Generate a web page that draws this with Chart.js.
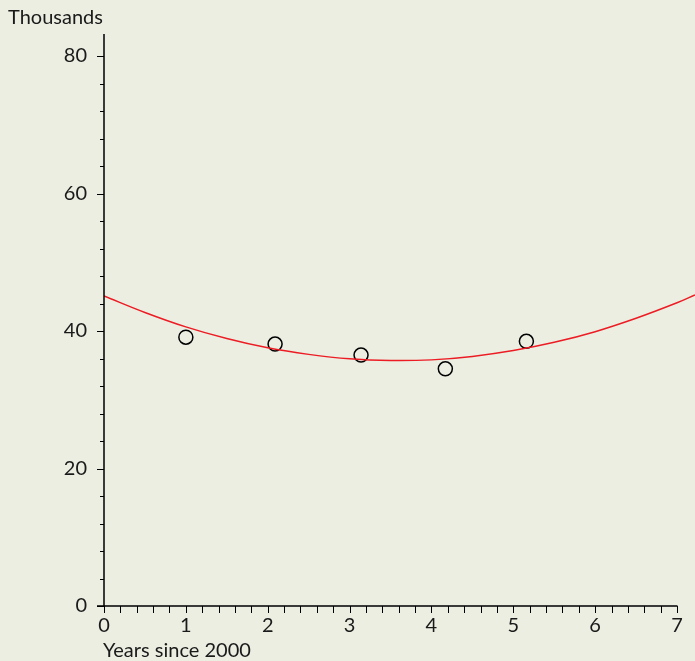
<!DOCTYPE html>
<html>
<head>
<meta charset="utf-8">
<script src="https://cdn.jsdelivr.net/npm/chart.js@4.4.0/dist/chart.umd.min.js"></script>
<style>
  html, body { margin: 0; padding: 0; background: #ebeee1; }
  #wrap { width: 695px; height: 661px; position: relative; }
</style>
</head>
<body>
<div id="wrap"><canvas id="chart" width="695" height="661"></canvas></div>
<script>
// observed points (years since 2000, thousands)
const obsYears  = [1.0, 2.09, 3.14, 4.17, 5.16];
const obsValues = [39.1, 38.1, 36.5, 34.5, 38.5];

// fitted red curve
const fitYears  = [0, 0.5, 1, 1.5, 2, 2.5, 3, 3.5, 4, 4.5, 5, 5.5, 6, 6.5, 7, 7.22];
const fitValues = [45.1, 42.7, 40.6, 38.9, 37.55, 36.6, 35.95, 35.7, 35.8, 36.3, 37.15, 38.35, 39.9, 41.85, 44.1, 45.25];

// labelled ticks
const xLabels = [0, 1, 2, 3, 4, 5, 6, 7];
const yLabels = [0, 20, 40, 60, 80];

const FONT = "Lato, sans-serif";
const TEXT = '#1a1a1a';

function isLabel(list, v){
    return list.some(l => Math.abs(l - v) < 1e-6);
}

// draws the axis lines, tick marks and the two axis captions
const axisPlugin = {
    id: 'axisLines',
    afterDraw(chart){
        const ctx = chart.ctx;
        const xs = chart.scales.x, ys = chart.scales.y;
        const x0 = Math.round(xs.getPixelForValue(0));
        const y0 = Math.round(ys.getPixelForValue(0));
        const xEnd = xs.getPixelForValue(xLabels[xLabels.length - 1]);
        ctx.save();
        ctx.strokeStyle = '#000';
        ctx.lineWidth = 1;
        ctx.beginPath();
        for (let t of ys.ticks){
            const py = Math.round(ys.getPixelForValue(t.value)) + 0.5;
            const len = isLabel(yLabels, t.value) ? 7 : 4;
            ctx.moveTo(x0 - len, py);
            ctx.lineTo(x0, py);
        }
        for (let t of xs.ticks){
            if (t.value > 7.0001) continue;
            const px = Math.round(xs.getPixelForValue(t.value)) + 0.5;
            ctx.moveTo(px, y0);
            ctx.lineTo(px, y0 + 7);
        }
        ctx.stroke();

        ctx.lineWidth = 1.5;
        ctx.beginPath();
        ctx.moveTo(x0, y0);
        ctx.lineTo(x0, chart.chartArea.top);
        ctx.moveTo(x0 - 7, y0);
        ctx.lineTo(xEnd + 0.5, y0);
        ctx.stroke();

        ctx.fillStyle = TEXT;
        ctx.font = "20px " + FONT;
        ctx.textBaseline = 'alphabetic';
        ctx.textAlign = 'left';
        ctx.fillText('Thousands', 8, 24);
        ctx.fillText('Years since 2000', 103, 657);
        ctx.restore();
    }
};

const ctx = document.getElementById('chart').getContext('2d');
const chart = new Chart(ctx, {
    type: 'scatter',
    data: {
        datasets: [
            {
                type: 'line',
                data: fitYears.map((x, i) => ({x: x, y: fitValues[i]})),
                borderColor: 'rgb(237,28,36)',
                borderWidth: 1.5,
                pointRadius: 0,
                tension: 0.4,
                fill: false
            },
            {
                data: obsYears.map((x, i) => ({x: x, y: obsValues[i]})),
                pointRadius: 7,
                pointHoverRadius: 7,
                pointBorderWidth: 1.5,
                borderColor: '#000',
                backgroundColor: 'rgba(0,0,0,0)',
                showLine: false
            }
        ]
    },
    options: {
        responsive: false,
        animation: false,
        devicePixelRatio: 1,
        layout: { autoPadding: false, padding: { top: 34, right: 0, left: 0, bottom: 0 } },
        plugins: { legend: { display: false }, tooltip: { enabled: false } },
        scales: {
            x: {
                type: 'linear',
                min: 0,
                max: 7.22,
                border: { display: false },
                grid: { display: false, drawTicks: false },
                afterFit: (s) => { s.height = 55; s.paddingLeft = 0; s.paddingRight = 0; },
                ticks: {
                    stepSize: 0.2,
                    autoSkip: false,
                    includeBounds: false,
                    maxRotation: 0,
                    padding: 8,
                    color: TEXT,
                    font: { family: FONT, size: 20 },
                    callback: (v) => isLabel(xLabels, v) ? String(Math.round(v)) : ''
                }
            },
            y: {
                type: 'linear',
                min: 0,
                max: 83.2,
                border: { display: false },
                grid: { display: false, drawTicks: false },
                afterFit: (s) => { s.width = 104; s.paddingTop = 0; s.paddingBottom = 0; },
                ticks: {
                    stepSize: 4,
                    autoSkip: false,
                    includeBounds: false,
                    padding: 17,
                    color: TEXT,
                    font: { family: FONT, size: 20 },
                    callback: (v) => isLabel(yLabels, v) ? String(Math.round(v)) : ''
                }
            }
        }
    },
    plugins: [axisPlugin]
});
</script>
</body>
</html>
